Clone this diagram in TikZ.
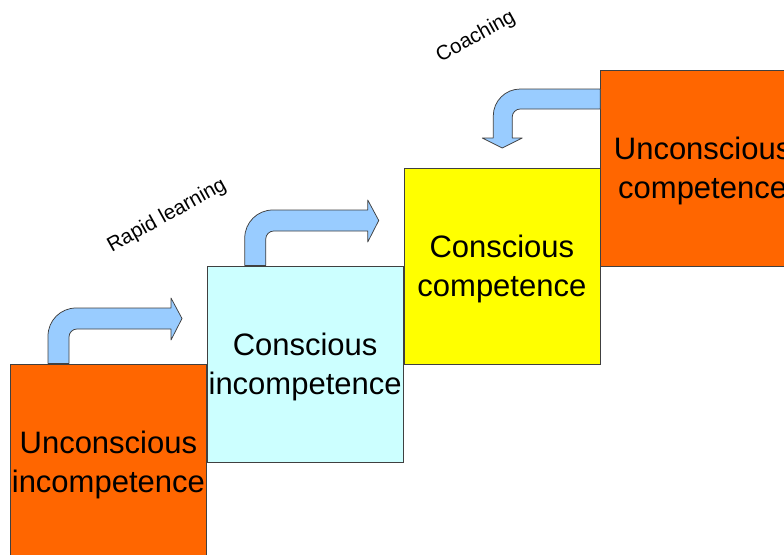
\documentclass[tikz,border=0pt]{standalone}
\usepackage{fontspec}
\setmainfont{Liberation Sans}
\usetikzlibrary{positioning,calc}
\definecolor{stepred}{HTML}{FF6600}
\definecolor{stepcyan}{HTML}{CCFFFF}
\definecolor{stepyellow}{HTML}{FFFF00}
\definecolor{arrowblue}{HTML}{99CCFF}
\tikzset{
  box/.style={draw=black!75,line width=0.75pt,minimum width=196pt,minimum height=196pt,
    inner sep=0pt,align=center,anchor=north west,font=\fontsize{31}{39}\selectfont,
    text depth=0pt},
  bent/.style={draw=black!75,fill=arrowblue,line width=0.75pt,line join=round},
  tag/.style={rotate=29,font=\fontsize{20.5}{24}\selectfont},
  stepup/.pic={
    \draw[bent] (0,0) -- ++(0,-27.5) arc[start angle=180,end angle=270,radius=28]
      -- ++(95,0) -- ++(0,-10) -- ++(11,20.5) -- ++(-11,21.5) -- ++(0,-11)
      -- ++(-94,0) arc[start angle=270,end angle=180,radius=8] -- ++(0,26.5) -- cycle;
  }
}

\begin{document}
\begin{tikzpicture}[x=1pt,y=-1pt]
\useasboundingbox (0,0) rectangle (784,554);
\node[box,fill=stepred] (uinc) at (10,363.5) {Unconscious\\incompetence};
\node[box,fill=stepcyan] (cinc) at ($(uinc.north east)+(0,-98)$) {Conscious\\incompetence};
\node[box,fill=stepyellow] (ccomp) at ($(cinc.north east)+(0,-98)$) {Conscious\\competence};
\node[box,fill=stepred,minimum width=204pt] (ucomp) at ($(ccomp.north east)+(0,-98)$) {Unconscious\\competence};
\pic at ($(uinc.north west)+(38,0)$) {stepup};
\pic at ($(cinc.north west)+(38,0)$) {stepup};
\draw[bent] ($(ucomp.north west)+(0,19.5)$) -- ++(-80,0) arc[start angle=270,end angle=180,radius=27]
  -- ++(0,22) -- ++(-11,0) -- ++(20,10) -- ++(20,-10) -- ++(-10,0) -- ++(0,-21)
  arc[start angle=180,end angle=270,radius=8] -- ++(80,0) -- cycle;
\node[tag] (rapid) at (167,216) {Rapid learning};
\node[tag] (coach) at (476,37) {Coaching};
\end{tikzpicture}
\end{document}
